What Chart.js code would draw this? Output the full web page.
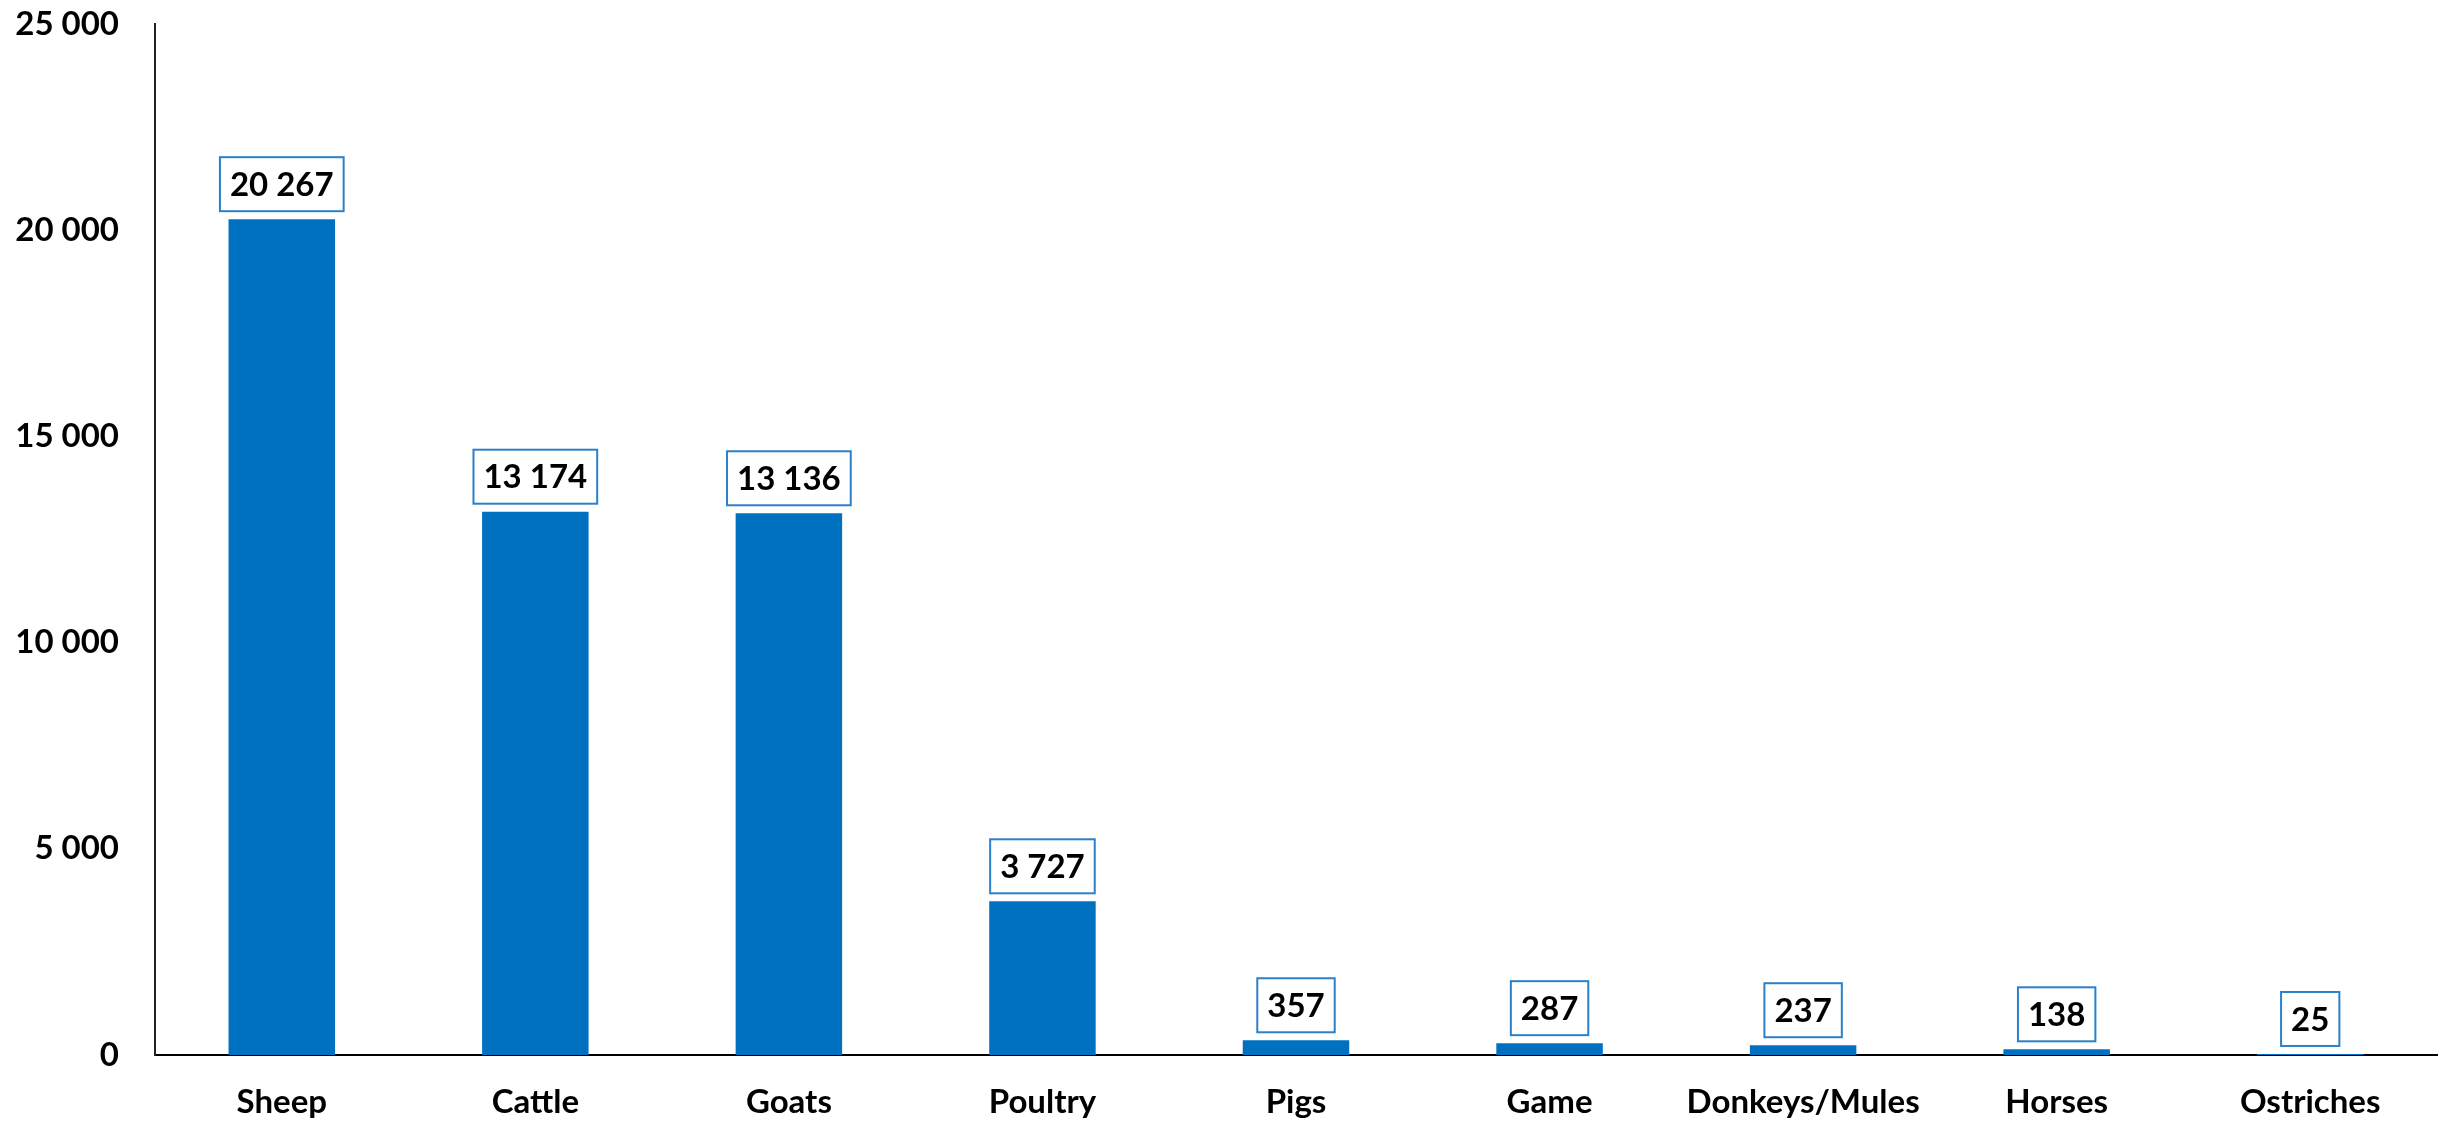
<!DOCTYPE html>
<html>
<head>
<meta charset="utf-8">
<script src="https://cdn.jsdelivr.net/npm/chart.js@4/dist/chart.umd.min.js"></script>
<style>
    body { margin: 0; background: #fff; }
    #wrap { width: 2450px; height: 1125px; }
</style>
</head>
<body>
<div id="wrap"><canvas id="livestockChart" width="2450" height="1125"></canvas></div>
<script>
const categories = ['Sheep', 'Cattle', 'Goats', 'Poultry', 'Pigs', 'Game', 'Donkeys/Mules', 'Horses', 'Ostriches'];
const values = [20267, 13174, 13136, 3727, 357, 287, 237, 138, 25];
const yTicks = [0, 5000, 10000, 15000, 20000, 25000];

const barColor = '#0070c0';
const fontFamily = 'Lato, "Open Sans", sans-serif';

// thousands with a space, e.g. 20 267
function fmt(v) {
    return String(v).replace(/\B(?=(\d{3})+(?!\d))/g, ' ');
}

const boxLabels = {
    id: 'boxLabels',
    afterDatasetsDraw(chart) {
        const ctx = chart.ctx;
        const meta = chart.getDatasetMeta(0);
        ctx.save();
        ctx.font = 'bold 33px ' + fontFamily;
        ctx.textAlign = 'center';
        ctx.textBaseline = 'middle';
        meta.data.forEach((bar, i) => {
            const text = fmt(values[i]);
            const w = ctx.measureText(text).width + 20;
            const h = 54;
            const bottom = bar.y - 8;
            ctx.fillStyle = '#fff';
            ctx.fillRect(bar.x - w / 2, bottom - h, w, h);
            ctx.strokeStyle = '#2a80cc';
            ctx.lineWidth = 2;
            ctx.strokeRect(bar.x - w / 2, bottom - h, w, h);
            ctx.fillStyle = '#000';
            ctx.fillText(text, bar.x, bottom - h / 2 + 1);
        });
        ctx.restore();
    }
};

new Chart(document.getElementById('livestockChart').getContext('2d'), {
    type: 'bar',
    data: {
        labels: categories,
        datasets: [{
            data: values,
            backgroundColor: barColor,
            barPercentage: 0.42,
            categoryPercentage: 1
        }]
    },
    options: {
        responsive: false,
        animation: false,
        layout: { padding: { top: 24, right: 13, left: 0, bottom: 0 } },
        plugins: { legend: { display: false }, tooltip: { enabled: false } },
        scales: {
            x: {
                grid: { display: false, drawTicks: false },
                border: { display: true, color: '#000', width: 2 },
                ticks: {
                    color: '#000',
                    padding: 28,
                    font: { family: fontFamily, size: 33, weight: 'bold' }
                },
                afterFit(scale) { scale.height = 70; scale.paddingLeft = 0; scale.paddingRight = 0; }
            },
            y: {
                min: 0,
                max: 25000,
                afterBuildTicks(scale) { scale.ticks = yTicks.map(v => ({ value: v })); },
                grid: { display: false, drawTicks: false },
                border: { display: true, color: '#222', width: 2 },
                ticks: {
                    color: '#000',
                    padding: 36,
                    font: { family: fontFamily, size: 33, weight: 'bold' },
                    callback: v => fmt(v)
                },
                afterFit(scale) { scale.width = 155; scale.paddingTop = 0; scale.paddingBottom = 0; }
            }
        }
    },
    plugins: [boxLabels]
});
</script>
</body>
</html>
